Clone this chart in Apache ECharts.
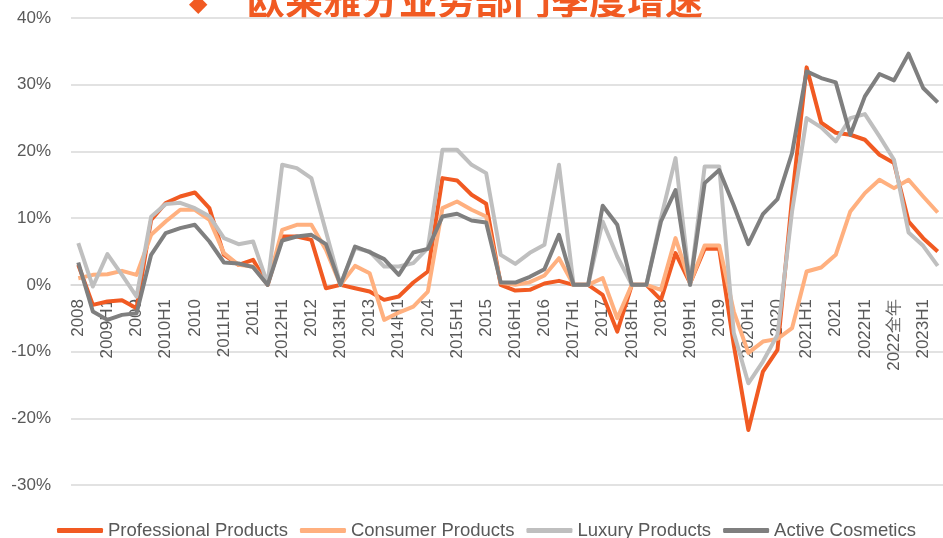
<!DOCTYPE html>
<html>
<head>
<meta charset="utf-8">
<script src="https://cdn.jsdelivr.net/npm/echarts@6/dist/echarts.min.js"></script>
<style>
  html, body { margin: 0; padding: 0; background: #fff; }
  #chart { width: 943px; height: 538px; }
</style>
</head>
<body>
<div id="chart"></div>
<script>
// quarterly cumulative growth, labels shown every other point (H1 / FY)
const categories = [
  '2008',
  '2009Q1', '2009H1', '2009Q3', '2009',
  '2010Q1', '2010H1', '2010Q3', '2010',
  '2011Q1', '2011H1', '2011Q3', '2011',
  '2012Q1', '2012H1', '2012Q3', '2012',
  '2013Q1', '2013H1', '2013Q3', '2013',
  '2014Q1', '2014H1', '2014Q3', '2014',
  '2015Q1', '2015H1', '2015Q3', '2015',
  '2016Q1', '2016H1', '2016Q3', '2016',
  '2017Q1', '2017H1', '2017Q3', '2017',
  '2018Q1', '2018H1', '2018Q3', '2018',
  '2019Q1', '2019H1', '2019Q3', '2019',
  '2020Q1', '2020H1', '2020Q3', '2020',
  '2021Q1', '2021H1', '2021Q3', '2021',
  '2022Q1', '2022H1', '2022Q3', '2022全年',
  '2023Q1', '2023H1', '2023Q3'
];

const professional = [
  3.0, -3, -2.5, -2.3, -3.5, 9.75, 12.25, 13.25, 13.85, 11.5,
  4.5, 3.0, 3.75, 0, 7.25, 7.25, 6.75, -0.5, 0, -0.5,
  -1, -2.25, -1.75, 0.35, 2, 16, 15.65, 13.5, 12.15, 0,
  -0.85, -0.75, 0.2, 0.6, 0, 0, -1.5, -7, 0, 0,
  -2.25, 4.75, 0.25, 5.4, 5.4, -9, -21.75, -13, -9.75, 13,
  32.6, 24.3, 22.8, 22.5, 21.75, 19.5, 18.25, 9.5, 7, 5
];

const consumer = [
  1, 1.5, 1.6, 2.1, 1.5, 7.5, 9.5, 11.25, 11.25, 9.75,
  4.75, 3, 2.75, 0, 8.25, 9, 9, 5.25, 0, 2.85,
  1.75, -5.25, -4.15, -3.25, -1, 11.5, 12.5, 11.25, 10.25, 0.3,
  0, 0.4, 1.4, 4, 0, 0, 1, -5, 0, 0,
  -0.75, 7, 0.25, 5.9, 5.9, -4, -10.2, -8.5, -8.1, -6.5,
  2, 2.6, 4.5, 11, 13.75, 15.75, 14.5, 15.75, 13.25, 10.85
];

const luxury = [
  6.25, -0.25, 4.6, 1.5, -1.75, 10.2, 12.1, 12.3, 11.5, 10.3,
  7, 6.1, 6.5, 0.15, 18, 17.5, 16, 8, 0, 5.5,
  5, 2.75, 2.75, 3.25, 5.5, 20.25, 20.25, 18, 16.75, 4.5,
  3.15, 4.8, 6, 18, 0, 0, 9.5, 4.25, 0, 0,
  10, 19, 0, 17.75, 17.75, -7.2, -14.75, -11.5, -7.5, 11,
  25, 23.6, 21.5, 25, 25.6, 22.25, 18.75, 7.85, 5.85, 2.85
];

const active = [
  3.35, -4, -5.25, -4.5, -4.25, 4.5, 7.75, 8.5, 9, 6.5,
  3.35, 3.2, 2.65, 0, 6.65, 7.25, 7.5, 6.1, 0, 5.75,
  4.9, 3.85, 1.5, 4.85, 5.4, 10.25, 10.65, 9.65, 9.35, 0.35,
  0.35, 1.2, 2.35, 7.5, 0, 0, 11.85, 9, 0, 0,
  9.5, 14.2, 0, 15.25, 17.2, 11.9, 6.1, 10.6, 12.85, 19.75,
  32, 31, 30.35, 22.5, 28.25, 31.6, 30.65, 34.65, 29.5, 27.35
];

const seriesNames = ['Professional Products', 'Consumer Products', 'Luxury Products', 'Active Cosmetics'];
const seriesColors = ['#F15A22', '#FFB07F', '#BFBFBF', '#7F7F7F'];
const seriesData = [professional, consumer, luxury, active];

const FONT = 'Liberation Sans';
const chart = echarts.init(document.getElementById('chart'));

const option = {
  animation: false,
  backgroundColor: '#fff',
  textStyle: { fontFamily: FONT },
  graphic: [
    {
      type: 'text', left: 189, top: -7,
      style: { text: '◆', fontSize: 24, fill: '#F15A22', fontFamily: 'DejaVu Sans' }
    },
    {
      type: 'text', left: 247, top: -19,
      style: {
        text: '欧莱雅分业务部门季度增速', fontSize: 38, fontWeight: 'bold',
        fill: '#F15A22', fontFamily: 'Noto Sans CJK SC'
      }
    }
  ],
  legend: {
    left: 57,
    top: 521,
    padding: 0,
    icon: 'roundRect',
    itemWidth: 46,
    itemHeight: 5,
    itemGap: 12,
    textStyle: { fontSize: 18.5, color: '#595959', fontFamily: FONT },
    data: seriesNames
  },
  grid: { left: 71, top: 18, width: 874, height: 467, containLabel: false, outerBoundsMode: 'none' },
  xAxis: {
    type: 'category',
    data: categories,
    offset: -200, // category axis crosses the value axis at 0%
    axisLine: { onZero: false, lineStyle: { color: '#d9d9d9', width: 1.5 } },
    axisTick: { show: false },
    axisLabel: {
      rotate: 90, interval: 1, margin: 14,
      fontSize: 17, color: '#595959', fontFamily: FONT
    }
  },
  yAxis: {
    type: 'value',
    min: -30,
    max: 40,
    interval: 10,
    axisLine: { show: false },
    axisTick: { show: false },
    axisLabel: { formatter: '{value}%', fontSize: 17, color: '#595959', margin: 20, fontFamily: FONT },
    splitLine: { lineStyle: { color: '#d9d9d9', width: 1.5 } }
  },
  series: seriesNames.map((name, i) => ({
    name: name,
    type: 'line',
    data: seriesData[i],
    showSymbol: false,
    symbol: 'none',
    lineStyle: { width: 4, color: seriesColors[i], join: 'round' },
    itemStyle: { color: seriesColors[i] }
  }))
};

chart.setOption(option);
</script>
</body>
</html>
